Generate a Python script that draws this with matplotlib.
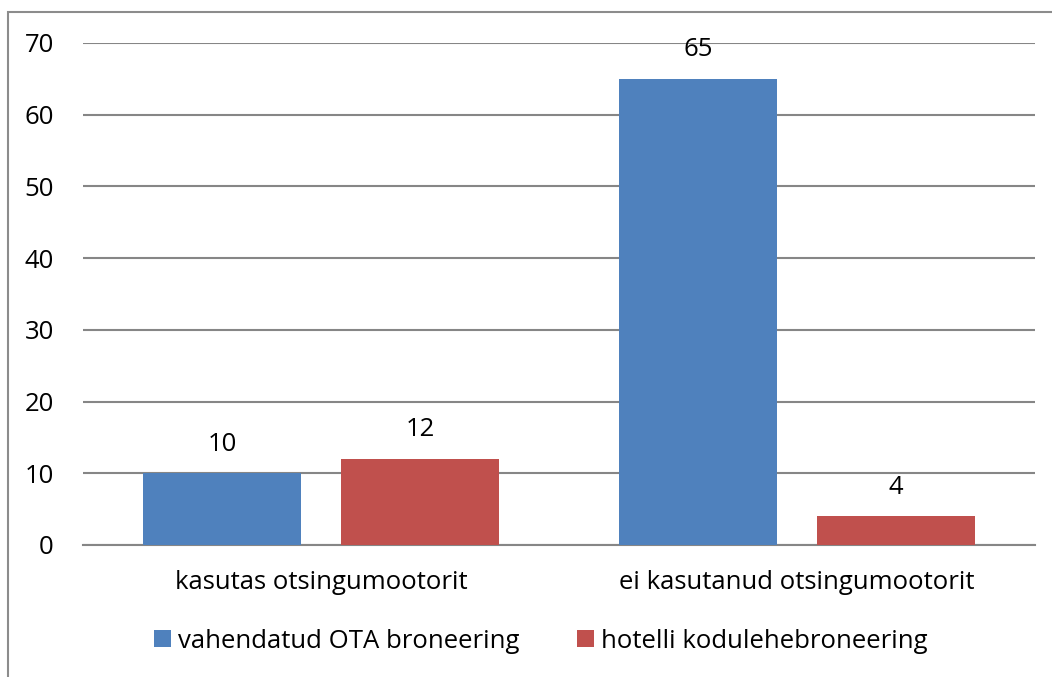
import numpy as np
import matplotlib.pyplot as plt
from matplotlib.patches import Rectangle

plt.rcParams['font.family'] = ['Open Sans', 'DejaVu Sans']

categories = ["kasutas otsingumootorit", "ei kasutanud otsingumootorit"]
series_names = ["vahendatud OTA broneering", "hotelli kodulehebroneering"]
ota_values = [10, 65]
hotel_values = [12, 4]
y_ticks = [0, 10, 20, 30, 40, 50, 60, 70]

W, H = 1052, 677
FS = 18.5
fig = plt.figure(figsize=(W / 100, H / 100), dpi=100)
ax = fig.add_axes([83 / W, 1 - 545 / H, (1035 - 83) / W, (545 - 43) / H])

# chart frame (only top and left edges visible in the crop)
fig.patches.append(Rectangle((8 / W, -0.1), 2, 1.1 - 12 / H, transform=fig.transFigure,
                             fill=False, edgecolor='#8c8c8c', linewidth=1.5))

x = np.arange(len(categories))
width = 0.33
offset = 0.208
colors = ['#4F81BD', '#C0504D']

for vals, off, col, name in [(ota_values, -offset, colors[0], series_names[0]),
                             (hotel_values, offset, colors[1], series_names[1])]:
    bars = ax.bar(x + off, vals, width, color=col, label=name, zorder=3)
    for b, v in zip(bars, vals):
        ax.annotate(str(v), (b.get_x() + b.get_width() / 2, v), xytext=(0, 21),
                    textcoords='offset points', ha='center', va='center', fontsize=FS)

ax.set_xlim(-0.5, 1.5)
ax.set_ylim(0, 70)
ax.set_yticks(y_ticks)
ax.set_xticks(x)
ax.set_xticklabels(categories)
ax.tick_params(axis='both', length=0, labelsize=FS)
ax.tick_params(axis='y', pad=21)
ax.tick_params(axis='x', pad=18)
ax.grid(axis='y', color='#868686', linewidth=1.5, zorder=0)
for side in ['left', 'right', 'top']:
    ax.spines[side].set_visible(False)
ax.spines['bottom'].set_color('#868686')
ax.spines['bottom'].set_linewidth(1.5)

fig.legend(loc='center', bbox_to_anchor=(541 / W, 1 - 641 / H), ncol=2, frameon=False,
           fontsize=FS, handlelength=0.66, handleheight=0.66, handletextpad=0.27,
           columnspacing=2.25, borderpad=0)

fig.savefig("out.png", dpi=100)
